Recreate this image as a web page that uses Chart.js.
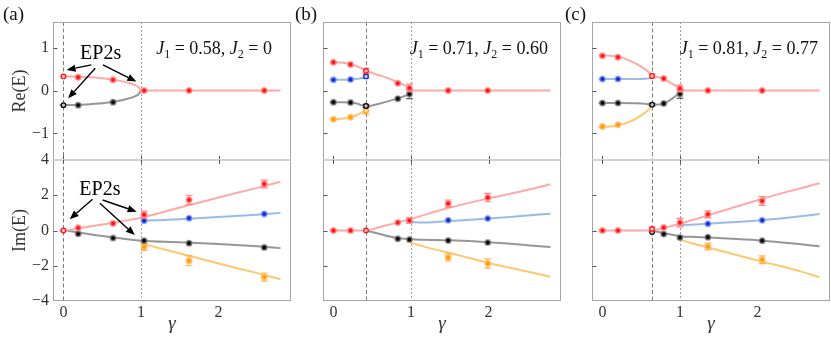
<!doctype html>
<html lang="en">
<head>
  <meta charset="utf-8">
  <title>EP2s - Re(E) and Im(E) versus gamma</title>
  <script src="https://cdn.jsdelivr.net/npm/chart.js"></script>
  <style>
    body { margin: 0; background: #fff; }
    #wrap { position: relative; width: 831px; height: 340px; font-family: "Liberation Serif", "Times New Roman", serif; color: #111; }
    #wrap canvas { position: absolute; left: 0; top: 0; }
    .plabel { position: absolute; top: 4px; font-size: 19px; line-height: 19px; }
    .jt { position: absolute; top: 39px; font-size: 18px; line-height: 18px; white-space: nowrap; }
    .jt sub { font-size: 12px; line-height: 0; vertical-align: -4px; }
  </style>
</head>
<body>
<div id="wrap">
  <canvas id="aRe" width="831" height="340"></canvas>
  <canvas id="aIm" width="831" height="340"></canvas>
  <canvas id="bRe" width="831" height="340"></canvas>
  <canvas id="bIm" width="831" height="340"></canvas>
  <canvas id="cRe" width="831" height="340"></canvas>
  <canvas id="cIm" width="831" height="340"></canvas>
</div>

<script>
  // ---------- data ----------
  const gammaTicks = [0, 1, 2];
  const reTicks = [-1, 0, 1];
  const imTicks = [-4, -2, 0, 2, 4];
  const panelNames = ['(a)', '(b)', '(c)'];
  const j1Values = ['0.58', '0.71', '0.81'];
  const j2Values = ['0', '0.60', '0.77'];
  const epGamma = [0, 0.42, 0.64];   // first EP of each panel (dashed line)
  const ep2Gamma = 1;                // second EP (dotted line)

  // panel (a): J1 = 0.58, J2 = 0
  const aGamma = [0, 0.19, 0.64, 1.04, 1.62, 2.59];
  const aReRed = [0.33, 0.31, 0.25, 0, 0, 0];
  const aReBlack = [-0.34, -0.34, -0.27, null, null, null];
  const aImRed = [0, 0.15, 0.40, 0.90, 1.74, 2.64];
  const aImRedErr = [0, 0, 0, 0.2, 0.26, 0.22];
  const aImBlue = [null, null, null, 0.55, 0.70, 0.94];
  const aImBlack = [null, -0.19, -0.43, -0.58, -0.72, -0.96];
  const aImOrange = [null, null, null, -0.94, -1.72, -2.64];
  const aImOrangeErr = [0, 0, 0, 0.19, 0.28, 0.23];

  const aReRedLine = [[-0.05, 0.33], [0.2, 0.325], [0.4, 0.305], [0.6, 0.265], [0.75, 0.22], [0.85, 0.175], [0.92, 0.13], [0.97, 0.08], [1, 0], [2.8, 0]];
  const aReBlackLine = [[-0.05, -0.34], [0.2, -0.335], [0.4, -0.31], [0.6, -0.27], [0.75, -0.225], [0.85, -0.18], [0.92, -0.135], [0.97, -0.085], [1, 0]];
  const aImRedLine = [[-0.05, 0], [0, 0], [0.2, 0.13], [0.4, 0.27], [0.6, 0.41], [0.8, 0.56], [1, 0.72], [1.5, 1.31], [2, 1.87], [2.5, 2.42], [2.8, 2.77]];
  const aImBlueLine = [[1, 0.57], [1.2, 0.58], [1.5, 0.64], [2, 0.76], [2.5, 0.9], [2.8, 1.0]];
  const aImBlackLine = [[-0.05, 0], [0, 0], [0.2, -0.12], [0.4, -0.25], [0.6, -0.37], [0.8, -0.48], [1, -0.58], [1.5, -0.67], [2, -0.77], [2.5, -0.9], [2.8, -1.0]];
  const aImOrangeLine = [[1, -0.72], [1.5, -1.31], [2, -1.87], [2.5, -2.42], [2.8, -2.77]];

  // panel (b): J1 = 0.71, J2 = 0.60
  const bGamma = [0, 0.22, 0.42, 0.83, 0.98, 1.48, 1.99];
  const bReRed = [0.66, 0.61, 0.46, 0.17, 0.06, 0, 0];
  const bReRedErr = [0, 0, 0.06, 0, 0.09, 0, 0];
  const bReBlue = [0.25, 0.26, 0.33, null, null, null, null];
  const bReBlueErr = [0, 0, 0.04, 0, 0, 0, 0];
  const bReBlack = [-0.27, -0.28, -0.36, -0.19, -0.08, null, null];
  const bReBlackErr = [0, 0, 0.04, 0, 0.11, 0, 0];
  const bReOrange = [-0.67, -0.62, -0.47, null, null, null, null];
  const bReOrangeErr = [0, 0, 0.08, 0, 0, 0, 0];
  const bImRed = [0, 0, 0, 0.45, 0.57, 1.53, 1.87];
  const bImRedErr = [0, 0, 0, 0, 0.15, 0.2, 0.24];
  const bImBlue = [null, null, null, null, null, 0.58, 0.68];
  const bImBlack = [null, null, null, -0.47, -0.51, -0.57, -0.68];
  const bImOrange = [null, null, null, null, null, -1.53, -1.87];
  const bImOrangeErr = [0, 0, 0, 0, 0, 0.2, 0.26];

  const bReRedLine = [[-0.05, 0.66], [0.1, 0.655], [0.2, 0.625], [0.3, 0.57], [0.38, 0.5], [0.42, 0.46], [0.5, 0.41], [0.6, 0.35], [0.7, 0.29], [0.8, 0.215], [0.9, 0.14], [0.96, 0.08], [1, 0], [2.8, 0]];
  const bReBlueLine = [[-0.05, 0.25], [0.1, 0.25], [0.2, 0.255], [0.3, 0.27], [0.38, 0.3], [0.42, 0.34]];
  const bReBlackLine = [[-0.05, -0.27], [0.1, -0.27], [0.2, -0.28], [0.3, -0.3], [0.42, -0.37], [0.6, -0.3], [0.8, -0.2], [0.9, -0.14], [0.97, -0.08], [1, 0]];
  const bReOrangeLine = [[-0.05, -0.67], [0.1, -0.66], [0.2, -0.63], [0.3, -0.57], [0.38, -0.5], [0.42, -0.45]];
  const bImRedLine = [[-0.05, 0], [0.42, 0], [0.6, 0.2], [0.8, 0.42], [1, 0.66], [1.5, 1.3], [2, 1.82], [2.5, 2.3], [2.8, 2.62]];
  const bImBlueLine = [[0.97, 0.55], [1.05, 0.47], [1.2, 0.46], [1.5, 0.54], [2, 0.68], [2.5, 0.85], [2.8, 0.95]];
  const bImBlackLine = [[0.42, 0], [0.6, -0.2], [0.8, -0.41], [1, -0.5], [1.5, -0.56], [2, -0.67], [2.5, -0.83], [2.8, -0.94]];
  const bImOrangeLine = [[0.95, -0.62], [1, -0.7], [1.5, -1.28], [2, -1.84], [2.5, -2.33], [2.8, -2.62]];

  // panel (c): J1 = 0.81, J2 = 0.77
  const cGamma = [0, 0.2, 0.64, 0.79, 1.0, 1.36, 2.06];
  const cReRed = [0.81, 0.78, 0.34, 0.28, 0.05, 0, 0];
  const cReRedErr = [0, 0, 0.05, 0, 0.08, 0, 0];
  const cReBlue = [0.27, 0.27, null, null, null, null, null];
  const cReBlack = [-0.29, -0.29, -0.33, -0.3, -0.08, null, null];
  const cReBlackErr = [0, 0, 0.03, 0, 0.1, 0, 0];
  const cReOrange = [-0.84, -0.8, null, null, null, null, null];
  const cImRed = [0, 0, 0.09, 0.17, 0.45, 0.92, 1.68];
  const cImRedErr = [0, 0, 0.1, 0, 0.24, 0.2, 0.25];
  const cImBlue = [null, null, null, null, null, 0.38, 0.58];
  const cImBlack = [null, null, -0.09, -0.2, -0.4, -0.38, -0.58];
  const cImOrange = [null, null, null, null, null, -0.91, -1.66];
  const cImOrangeErr = [0, 0, 0, 0, 0, 0.19, 0.22];

  const cReRedLine = [[-0.05, 0.82], [0.1, 0.815], [0.2, 0.79], [0.3, 0.74], [0.4, 0.66], [0.5, 0.56], [0.58, 0.46], [0.64, 0.36], [0.78, 0.28], [0.88, 0.18], [0.96, 0.09], [1, 0], [2.8, 0]];
  const cReBlueLine = [[-0.05, 0.27], [0.2, 0.27], [0.4, 0.27], [0.55, 0.275], [0.64, 0.29]];
  const cReBlackLine = [[-0.05, -0.29], [0.2, -0.29], [0.4, -0.295], [0.55, -0.305], [0.64, -0.33], [0.78, -0.31], [0.88, -0.21], [0.96, -0.1], [1, 0]];
  const cReOrangeLine = [[-0.05, -0.85], [0.1, -0.84], [0.2, -0.81], [0.3, -0.76], [0.4, -0.69], [0.5, -0.58], [0.58, -0.47], [0.64, -0.36]];
  const cImRedLine = [[-0.05, 0], [0.64, 0], [0.8, 0.15], [1, 0.38], [1.2, 0.64], [1.5, 1.05], [2, 1.72], [2.4, 2.22], [2.8, 2.68]];
  const cImBlueLine = [[0.96, 0.3], [1.2, 0.34], [1.5, 0.42], [2, 0.57], [2.5, 0.78], [2.8, 0.93]];
  const cImBlackLine = [[0.64, 0], [0.8, -0.16], [1, -0.32], [1.2, -0.37], [1.5, -0.43], [2, -0.55], [2.5, -0.75], [2.8, -0.9]];
  const cImOrangeLine = [[0.96, -0.45], [1, -0.52], [1.2, -0.78], [1.5, -1.12], [2, -1.7], [2.5, -2.25], [2.8, -2.65]];

  // "EP2s" notes in panel (a): text position and arrows [gamma0, v0, gamma1, v1]
  const noteReAt = [0.48, 0.87];
  const noteReArrows = [[0.36, 0.60, 0.04, 0.48], [0.41, 0.52, 0.06, -0.18], [0.51, 0.60, 0.94, 0.21]];
  const noteImAt = [0.47, 2.3];
  const noteImArrows = [[0.375, 1.77, 0.08, 0.64], [0.505, 1.73, 0.944, 1.07], [0.47, 1.55, 0.92, -0.26]];

  // ---------- layout ----------
  const W = 831, H = 340;
  const cols = [[53, 291], [323, 561], [592, 830]];
  const rows = { re: [22, 160], im: [160, 301] };
  const SERIF = "'Liberation Serif', 'Times New Roman', serif";
  Chart.defaults.font.family = SERIF;
  Chart.defaults.color = '#333';

  const colors = {
    red:    { line: 'rgb(255,168,168)', dot: '#ff1010', halo: 'rgba(255,130,130,0.75)', open: 'rgba(255,200,200,0.9)', err: 'rgba(255,120,120,0.9)' },
    blue:   { line: 'rgb(152,187,232)', dot: '#1020d8', halo: 'rgba(120,150,235,0.7)', open: 'rgba(200,210,250,0.9)', err: 'rgba(110,140,230,0.9)' },
    black:  { line: 'rgb(150,150,150)', dot: '#000000', halo: 'rgba(120,120,120,0.7)', open: 'rgba(200,200,200,0.9)', err: 'rgba(90,90,90,0.9)' },
    orange: { line: 'rgb(255,200,112)', dot: '#ff9a00', halo: 'rgba(255,190,100,0.8)', open: 'rgba(255,225,180,0.9)', err: 'rgba(255,170,70,0.9)' }
  };

  function curve(pts, c) {
    return {
      data: pts, showLine: true, borderColor: colors[c].line, borderWidth: 2,
      pointRadius: 0, cubicInterpolationMode: 'monotone', fill: false, order: 2
    };
  }

  function dots(gam, vals, errs, c, ep) {
    const data = [];
    gam.forEach((g, i) => {
      if (vals[i] !== null) data.push({ x: g, y: vals[i], e: errs ? errs[i] : 0 });
    });
    const isEp = ctx => ctx.raw && ctx.raw.x === ep;
    return {
      data, showLine: false, errColor: colors[c].err, order: 1,
      pointRadius: ctx => isEp(ctx) ? 2.3 : 2.6,
      borderWidth: ctx => isEp(ctx) ? 1.2 : 1.8,
      pointBackgroundColor: ctx => isEp(ctx) ? colors[c].open : colors[c].dot,
      pointBorderColor: ctx => isEp(ctx) ? colors[c].dot : colors[c].halo
    };
  }

  // frame, inward ticks and the two EP guide lines
  function framePlugin(row, yT, ep) {
    return {
      id: 'frame',
      beforeDatasetsDraw(chart) {
        const { ctx, chartArea: a, scales: { x, y } } = chart;
        ctx.save();
        ctx.lineWidth = 1;
        ctx.strokeStyle = '#7a7a7a';
        ctx.setLineDash([4, 2.5]);
        let px = Math.round(x.getPixelForValue(ep)) + 0.5;
        ctx.beginPath(); ctx.moveTo(px, a.top); ctx.lineTo(px, a.bottom); ctx.stroke();
        ctx.strokeStyle = '#a0a0a0';
        ctx.setLineDash([2, 2]);
        px = Math.round(x.getPixelForValue(ep2Gamma)) + 0.5;
        ctx.beginPath(); ctx.moveTo(px, a.top); ctx.lineTo(px, a.bottom); ctx.stroke();
        ctx.setLineDash([]);

        const L = Math.round(a.left) + 0.5, R = Math.round(a.right) - 0.5;
        const T = Math.round(a.top), B = Math.round(a.bottom);
        ctx.strokeStyle = '#a5a5a5';
        ctx.beginPath();
        ctx.moveTo(L, a.top); ctx.lineTo(L, a.bottom);
        ctx.moveTo(R, a.top); ctx.lineTo(R, a.bottom);
        if (row === 're') { ctx.moveTo(L, T + 0.5); ctx.lineTo(R, T + 0.5); }
        else { ctx.moveTo(L, B - 0.5); ctx.lineTo(R, B - 0.5); }
        ctx.stroke();
        // separator between the two rows
        ctx.strokeStyle = '#d2d2d2';
        ctx.lineWidth = 2;
        const S = row === 're' ? B : T;
        ctx.beginPath(); ctx.moveTo(L, S); ctx.lineTo(R, S); ctx.stroke();

        ctx.strokeStyle = '#555';
        ctx.lineWidth = 1;
        ctx.beginPath();
        yT.forEach(v => {
          if (v <= y.min || v >= y.max) return;
          const py = Math.round(y.getPixelForValue(v)) + 0.5;
          ctx.moveTo(L, py); ctx.lineTo(L + 4, py);
        });
        gammaTicks.forEach(g => {
          const gx = Math.round(x.getPixelForValue(g)) + 0.5;
          if (row === 're') { ctx.moveTo(gx, S); ctx.lineTo(gx, S - 4); }
          else { ctx.moveTo(gx, S); ctx.lineTo(gx, S + 4); }
        });
        ctx.stroke();
        ctx.restore();
      }
    };
  }

  const errPlugin = {
    id: 'errs',
    beforeDatasetDraw(chart, args) {
      const ds = chart.data.datasets[args.index];
      if (!ds.errColor) return;
      const { ctx } = chart;
      const y = chart.scales.y;
      ctx.save();
      ctx.strokeStyle = ds.errColor;
      ctx.lineWidth = 1.2;
      args.meta.data.forEach((pt, i) => {
        const d = ds.data[i];
        if (!d.e) return;
        const t = y.getPixelForValue(d.y + d.e), b = y.getPixelForValue(d.y - d.e);
        ctx.beginPath();
        ctx.moveTo(pt.x, t); ctx.lineTo(pt.x, b);
        ctx.moveTo(pt.x - 3.5, t); ctx.lineTo(pt.x + 3.5, t);
        ctx.moveTo(pt.x - 3.5, b); ctx.lineTo(pt.x + 3.5, b);
        ctx.stroke();
      });
      ctx.restore();
    }
  };

  function notePlugin(at, arrows) {
    return {
      id: 'note',
      afterDatasetsDraw(chart) {
        if (!at) return;
        const { ctx, scales: { x, y } } = chart;
        ctx.save();
        ctx.fillStyle = '#000';
        ctx.strokeStyle = '#000';
        ctx.lineWidth = 1.4;
        ctx.font = '20px ' + SERIF;
        ctx.textAlign = 'center';
        ctx.textBaseline = 'middle';
        ctx.fillText('EP2s', x.getPixelForValue(at[0]), y.getPixelForValue(at[1]));
        arrows.forEach(([g0, v0, g1, v1]) => {
          const x0 = x.getPixelForValue(g0), y0 = y.getPixelForValue(v0);
          const x1 = x.getPixelForValue(g1), y1 = y.getPixelForValue(v1);
          const ang = Math.atan2(y1 - y0, x1 - x0);
          const hl = 9, hw = 3.6;
          const bx = x1 - hl * Math.cos(ang), by = y1 - hl * Math.sin(ang);
          ctx.beginPath(); ctx.moveTo(x0, y0); ctx.lineTo(bx, by); ctx.stroke();
          ctx.beginPath();
          ctx.moveTo(x1, y1);
          ctx.lineTo(bx + hw * Math.sin(ang), by - hw * Math.cos(ang));
          ctx.lineTo(bx - hw * Math.sin(ang), by + hw * Math.cos(ang));
          ctx.closePath(); ctx.fill();
        });
        ctx.restore();
      }
    };
  }

  function makePanel(id, col, row, datasets, noteAt, noteArrows) {
    const [L, R] = cols[col];
    const [T, B] = rows[row];
    const first = col === 0;
    const bottom = row === 'im';
    const yT = row === 're' ? reTicks : imTicks;
    const ep = epGamma[col];
    new Chart(document.getElementById(id), {
      type: 'scatter',
      data: { datasets },
      options: {
        responsive: false, animation: false, events: [],
        layout: { autoPadding: false, padding: { left: first ? 0 : L, right: W - R, top: T, bottom: bottom ? 0 : H - B } },
        plugins: { legend: { display: false }, tooltip: { enabled: false } },
        scales: {
          x: {
            type: 'linear', min: -0.135, max: 2.935, display: bottom,
            afterBuildTicks: s => { s.ticks = gammaTicks.map(v => ({ value: v })); },
            afterFit: bottom ? (s => { s.height = H - B; }) : undefined,
            grid: { display: false, drawTicks: false }, border: { display: false },
            ticks: { font: { size: 16 }, padding: 2, color: '#333' },
            title: { display: true, text: 'γ', font: { size: 19, style: 'italic' }, padding: { top: 0, bottom: 5 }, color: '#333' }
          },
          y: {
            type: 'linear', min: row === 're' ? -1.62 : -4, max: row === 're' ? 1.6 : 4, display: first,
            afterBuildTicks: s => { s.ticks = yT.map(v => ({ value: v })); },
            afterFit: first ? (s => { s.width = L; }) : undefined,
            grid: { display: false, drawTicks: false }, border: { display: false },
            ticks: { font: { size: 16 }, padding: 4, color: '#333', callback: v => String(v).replace('-', '\u2212') },
            title: { display: true, text: row === 're' ? 'Re(E)' : 'Im(E)', font: { size: 18 }, padding: { top: 9 }, color: '#333' }
          }
        }
      },
      plugins: [framePlugin(row, yT, ep), errPlugin, notePlugin(noteAt, noteArrows)]
    });
  }

  // panel (a)
  makePanel('aRe', 0, 're', [
    curve(aReRedLine, 'red'), curve(aReBlackLine, 'black'),
    dots(aGamma, aReRed, null, 'red', epGamma[0]), dots(aGamma, aReBlack, null, 'black', epGamma[0])
  ], noteReAt, noteReArrows);
  makePanel('aIm', 0, 'im', [
    curve(aImRedLine, 'red'), curve(aImBlueLine, 'blue'), curve(aImBlackLine, 'black'), curve(aImOrangeLine, 'orange'),
    dots(aGamma, aImRed, aImRedErr, 'red', epGamma[0]), dots(aGamma, aImBlue, null, 'blue', epGamma[0]),
    dots(aGamma, aImBlack, null, 'black', epGamma[0]), dots(aGamma, aImOrange, aImOrangeErr, 'orange', epGamma[0])
  ], noteImAt, noteImArrows);

  // panel (b)
  makePanel('bRe', 1, 're', [
    curve(bReRedLine, 'red'), curve(bReBlueLine, 'blue'), curve(bReBlackLine, 'black'), curve(bReOrangeLine, 'orange'),
    dots(bGamma, bReRed, bReRedErr, 'red', epGamma[1]), dots(bGamma, bReBlue, bReBlueErr, 'blue', epGamma[1]),
    dots(bGamma, bReBlack, bReBlackErr, 'black', epGamma[1]), dots(bGamma, bReOrange, bReOrangeErr, 'orange', epGamma[1])
  ]);
  makePanel('bIm', 1, 'im', [
    curve(bImRedLine, 'red'), curve(bImBlueLine, 'blue'), curve(bImBlackLine, 'black'), curve(bImOrangeLine, 'orange'),
    dots(bGamma, bImRed, bImRedErr, 'red', epGamma[1]), dots(bGamma, bImBlue, null, 'blue', epGamma[1]),
    dots(bGamma, bImBlack, null, 'black', epGamma[1]), dots(bGamma, bImOrange, bImOrangeErr, 'orange', epGamma[1])
  ]);

  // panel (c)
  makePanel('cRe', 2, 're', [
    curve(cReRedLine, 'red'), curve(cReBlueLine, 'blue'), curve(cReBlackLine, 'black'), curve(cReOrangeLine, 'orange'),
    dots(cGamma, cReRed, cReRedErr, 'red', epGamma[2]), dots(cGamma, cReBlue, null, 'blue', epGamma[2]),
    dots(cGamma, cReBlack, cReBlackErr, 'black', epGamma[2]), dots(cGamma, cReOrange, null, 'orange', epGamma[2])
  ]);
  makePanel('cIm', 2, 'im', [
    curve(cImRedLine, 'red'), curve(cImBlueLine, 'blue'), curve(cImBlackLine, 'black'), curve(cImOrangeLine, 'orange'),
    dots(cGamma, cImRed, cImRedErr, 'red', epGamma[2]), dots(cGamma, cImBlue, null, 'blue', epGamma[2]),
    dots(cGamma, cImBlack, null, 'black', epGamma[2]), dots(cGamma, cImOrange, cImOrangeErr, 'orange', epGamma[2])
  ]);

  // panel letters and J1/J2 labels
  const wrap = document.getElementById('wrap');
  const letterLeft = [3, 295, 565];
  const jRight = [272, 548, 818];
  panelNames.forEach((name, i) => {
    const p = document.createElement('div');
    p.className = 'plabel';
    p.style.left = letterLeft[i] + 'px';
    p.textContent = name;
    wrap.appendChild(p);

    const j = document.createElement('div');
    j.className = 'jt';
    j.style.right = (W - jRight[i]) + 'px';
    j.innerHTML = '<i>J</i><sub>1</sub> = ' + j1Values[i] + ', <i>J</i><sub>2</sub> = ' + j2Values[i];
    wrap.appendChild(j);
  });
</script>
</body>
</html>
